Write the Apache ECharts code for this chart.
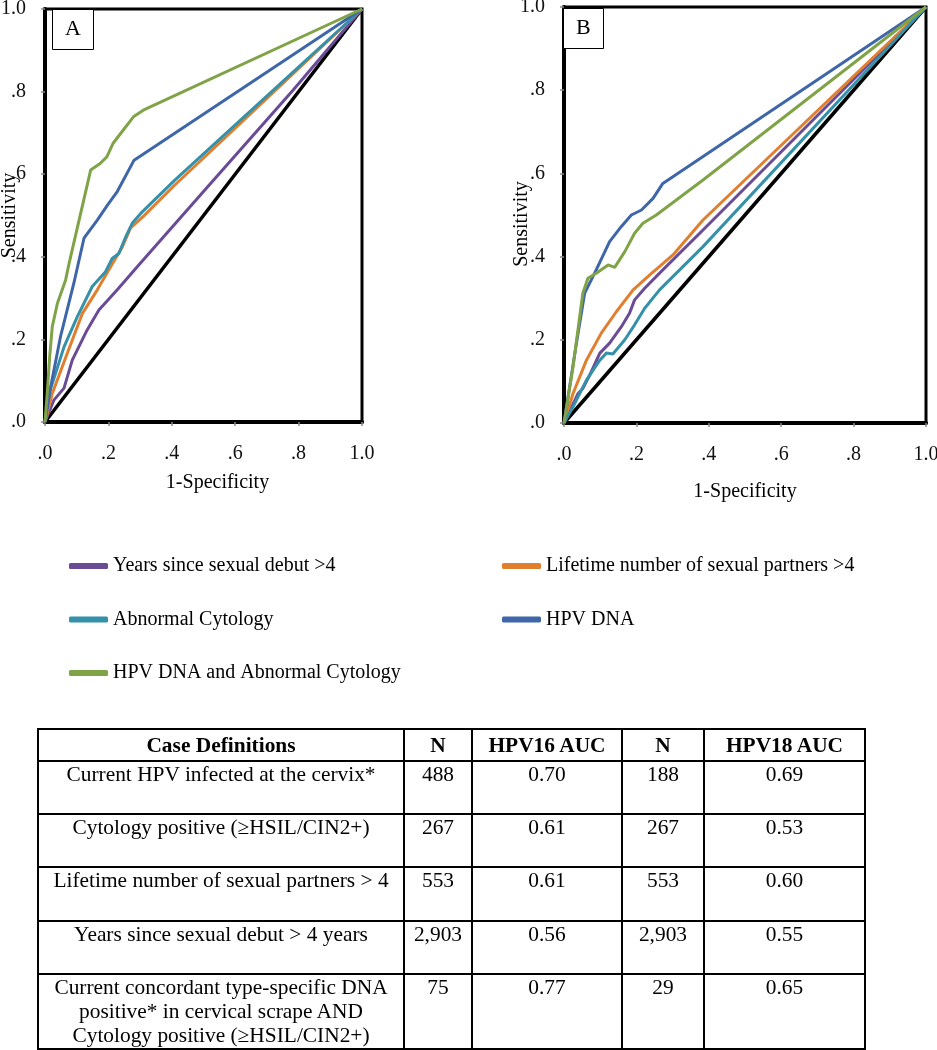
<!DOCTYPE html>
<html>
<head>
<meta charset="utf-8">
<script src="https://cdn.jsdelivr.net/npm/echarts@6/dist/echarts.min.js"></script>
<style>
  html, body { margin: 0; padding: 0; background: #fff; }
  #chart { position: absolute; left: 0; top: 0; width: 937px; height: 1050px; }
  #tbl { position: absolute; left: 37px; top: 728px; border-collapse: collapse; table-layout: fixed;
         font-family: 'Liberation Serif', 'Times New Roman', serif; font-size: 21.4px; line-height: 24px; color: #000; }
  #tbl td, #tbl th { border: 2px solid #000; text-align: center; vertical-align: top; padding: 0 1px; white-space: nowrap; }
  #tbl th { vertical-align: middle; font-weight: bold; }
</style>
</head>
<body>
<div id="chart"></div>
<table id="tbl"></table>
<script>
// ---------------- DATA ----------------
const tickLabels = ['.0', '.2', '.4', '.6', '.8', '1.0'];
const seriesNames = ['Years since sexual debut >4', 'Lifetime number of sexual partners >4',
                     'Abnormal Cytology', 'HPV DNA', 'HPV DNA and Abnormal Cytology'];
const panelLabels = ['A', 'B'];

const diagonal = [[0, 0], [1, 1]];

// Panel A (HPV16) ROC points [1-specificity, sensitivity]
const a_years = [[0,0],[0.028,0.053],[0.06,0.082],[0.086,0.15],[0.133,0.223],[0.17,0.271],[0.228,0.32],[0.291,0.376],[0.5,0.558],[0.783,0.804],[1,1]];
const a_partners = [[0,0],[0.023,0.069],[0.07,0.166],[0.118,0.263],[0.165,0.32],[0.207,0.376],[0.244,0.424],[0.27,0.47],[0.312,0.499],[0.407,0.572],[1,1]];
const a_cytology = [[0,0],[0.013,0.069],[0.06,0.182],[0.102,0.255],[0.149,0.328],[0.191,0.364],[0.212,0.396],[0.233,0.408],[0.255,0.449],[0.275,0.481],[0.302,0.505],[0.407,0.584],[1,1]];
const a_hpvdna = [[0,0],[0.018,0.086],[0.049,0.207],[0.091,0.336],[0.123,0.445],[0.165,0.489],[0.197,0.525],[0.228,0.558],[0.281,0.634],[1,1]];
const a_combined = [[0,0],[0.007,0.069],[0.015,0.16],[0.023,0.231],[0.039,0.287],[0.065,0.344],[0.076,0.384],[0.144,0.61],[0.174,0.626],[0.195,0.642],[0.215,0.675],[0.247,0.707],[0.279,0.739],[0.31,0.755],[1,1]];

// Panel B (HPV18)
const b_years = [[0,0],[0.039,0.071],[0.052,0.083],[0.071,0.115],[0.099,0.168],[0.126,0.192],[0.158,0.231],[0.181,0.264],[0.195,0.296],[0.223,0.324],[0.273,0.368],[0.384,0.464],[1,1]];
const b_partners = [[0,0],[0.025,0.071],[0.062,0.151],[0.103,0.216],[0.145,0.268],[0.191,0.32],[0.237,0.356],[0.301,0.404],[0.384,0.488],[1,1]];
const b_cytology = [[0,0],[0.025,0.039],[0.062,0.103],[0.099,0.151],[0.117,0.168],[0.135,0.166],[0.168,0.2],[0.195,0.236],[0.223,0.276],[0.264,0.32],[0.384,0.424],[1,1]];
const b_hpvdna = [[0,0],[0.034,0.19],[0.057,0.312],[0.089,0.368],[0.126,0.436],[0.158,0.472],[0.186,0.5],[0.214,0.512],[0.246,0.54],[0.273,0.576],[1,1]];
const b_combined = [[0,0],[0.025,0.135],[0.052,0.312],[0.066,0.348],[0.089,0.36],[0.122,0.38],[0.14,0.374],[0.168,0.412],[0.195,0.456],[0.218,0.48],[0.255,0.5],[0.384,0.584],[1,1]];

// Table
const tableHeaders = ['Case Definitions', 'N', 'HPV16 AUC', 'N', 'HPV18 AUC'];
const caseDefinitions = ['Current HPV infected at the cervix*',
  'Cytology positive (\u2265HSIL/CIN2+)',
  'Lifetime number of sexual partners > 4',
  'Years since sexual debut > 4 years',
  'Current concordant type-specific DNA\npositive* in cervical scrape AND\nCytology positive (\u2265HSIL/CIN2+)'];
const n16 = ['488', '267', '553', '2,903', '75'];
const auc16 = ['0.70', '0.61', '0.61', '0.56', '0.77'];
const n18 = ['188', '267', '553', '2,903', '29'];
const auc18 = ['0.69', '0.53', '0.60', '0.55', '0.65'];

// ---------------- STYLE ----------------
const FONT = "'Liberation Serif', 'Times New Roman', serif";
const colors = ['#6a4b96', '#e07f2e', '#3591a9', '#3e66a8', '#7fa346'];

const panelA = [a_years, a_partners, a_cytology, a_hpvdna, a_combined];
const panelB = [b_years, b_partners, b_cytology, b_hpvdna, b_combined];

function axisCommon(isX, nameGap, namePad) {
  return {
    type: 'value', min: 0, max: 1, interval: 0.2,
    name: isX ? '1-Specificity' : 'Sensitivity',
    nameLocation: 'middle', nameGap: nameGap, nameMoveOverlap: false,
    nameTextStyle: { fontFamily: FONT, fontSize: 20, color: '#000', padding: namePad },
    axisLine: { show: true, onZero: false, lineStyle: { color: '#000', width: 4 } },
    axisTick: { show: true, length: 4, lineStyle: { color: '#8a8a8a', width: 1.5 } },
    axisLabel: { margin: isX ? 22 : 19, fontFamily: FONT, fontSize: 20, color: '#111',
                 formatter: v => tickLabels[Math.round(v / 0.2)] },
    splitLine: { show: false }
  };
}

const series = [];
[panelA, panelB].forEach((panel, gi) => {
  series.push({ type: 'line', name: 'Reference', xAxisIndex: gi, yAxisIndex: gi, data: diagonal,
                showSymbol: false, symbol: 'none', lineStyle: { color: '#000', width: 3.5 }, z: 2 });
  panel.forEach((d, i) => {
    series.push({ type: 'line', name: seriesNames[i], xAxisIndex: gi, yAxisIndex: gi, data: d,
                  showSymbol: false, symbol: 'none', color: colors[i],
                  lineStyle: { color: colors[i], width: 3 }, z: 3 });
  });
});

const legendText = { fontFamily: FONT, fontSize: 20, color: '#000', lineHeight: 20 };
const titleText = { fontFamily: FONT, fontSize: 22, fontWeight: 'normal', color: '#000', lineHeight: 22 };

const option = {
  animation: false,
  backgroundColor: '#fff',
  title: [
    { text: panelLabels[0], left: 52, top: 9, borderColor: '#000', borderWidth: 1, backgroundColor: '#fff',
      padding: [9, 13, 10, 13], textStyle: titleText },
    { text: panelLabels[1], left: 563, top: 8, borderColor: '#000', borderWidth: 1, backgroundColor: '#fff',
      padding: [9, 13, 10, 13], textStyle: titleText }
  ],
  grid: [
    { left: 45, top: 9, width: 317, height: 413, show: true, borderColor: '#000', borderWidth: 3,
      backgroundColor: 'transparent', containLabel: false, outerBoundsMode: 'none' },
    { left: 564, top: 7, width: 362, height: 416, show: true, borderColor: '#000', borderWidth: 3,
      backgroundColor: 'transparent', containLabel: false, outerBoundsMode: 'none' }
  ],
  xAxis: [
    Object.assign(axisCommon(true, 51, [0, 0, 0, 28]), { gridIndex: 0 }),
    Object.assign(axisCommon(true, 59, [0, 0, 0, 0]), { gridIndex: 1 })
  ],
  yAxis: [
    Object.assign(axisCommon(false, 25, [0, 0, 0, 0]), { gridIndex: 0 }),
    Object.assign(axisCommon(false, 32, [0, 18, 0, 0]), { gridIndex: 1 })
  ],
  legend: [
    { left: 69, top: 556, padding: 0, orient: 'vertical', itemGap: 33.5, itemWidth: 39, itemHeight: 6, icon: 'roundRect',
      textStyle: legendText, selectedMode: false,
      data: [seriesNames[0], seriesNames[2], seriesNames[4]] },
    { left: 502, top: 556, padding: 0, orient: 'vertical', itemGap: 33.5, itemWidth: 39, itemHeight: 6, icon: 'roundRect',
      textStyle: legendText, selectedMode: false,
      data: [seriesNames[1], seriesNames[3]] }
  ],
  series: series
};

const chart = echarts.init(document.getElementById('chart'), null, { renderer: 'canvas' });
chart.setOption(option);

// ---------------- TABLE ----------------
const colWidths = [366, 68, 150, 82, 161];
const rowHeights = [53, 53, 54, 53, 75];
const tbl = document.getElementById('tbl');
const cg = document.createElement('colgroup');
colWidths.forEach(w => { const c = document.createElement('col'); c.style.width = w + 'px'; cg.appendChild(c); });
tbl.appendChild(cg);
const hr = document.createElement('tr');
hr.style.height = '32px';
tableHeaders.forEach(h => { const th = document.createElement('th'); th.textContent = h; hr.appendChild(th); });
tbl.appendChild(hr);
caseDefinitions.forEach((cd, i) => {
  const tr = document.createElement('tr');
  tr.style.height = rowHeights[i] + 'px';
  [cd, n16[i], auc16[i], n18[i], auc18[i]].forEach(v => {
    const td = document.createElement('td');
    v.split('\n').forEach((line, k) => {
      if (k > 0) td.appendChild(document.createElement('br'));
      td.appendChild(document.createTextNode(line));
    });
    tr.appendChild(td);
  });
  tbl.appendChild(tr);
});
</script>
</body>
</html>
